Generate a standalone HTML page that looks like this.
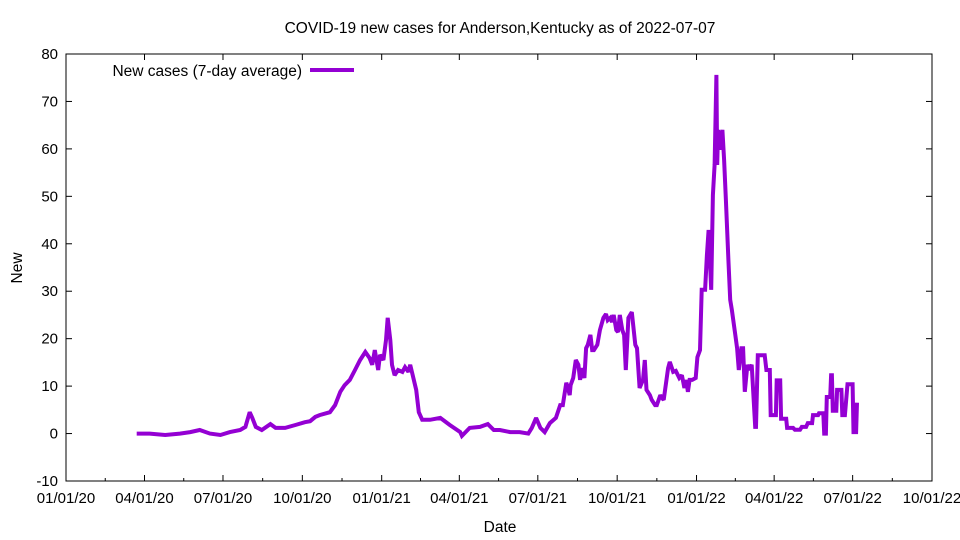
<!DOCTYPE html>
<html><head><meta charset="utf-8"><style>
body{margin:0;background:#fff;}
svg{display:block;font-family:"Liberation Sans",Arial,sans-serif;}
</style></head><body>
<svg id="chart" width="960" height="540">
<text x="500" y="33" text-anchor="middle" font-size="15.5">COVID-19 new cases for Anderson,Kentucky as of 2022-07-07</text>
<text x="500" y="532" text-anchor="middle" font-size="15.5">Date</text>
<text transform="translate(22,268) rotate(-90)" text-anchor="middle" font-size="15.5">New</text>
<g id="axes"></g>
<g id="plot"></g>
<g>
<text x="302" y="76" text-anchor="end" font-size="15.5">New cases (7-day average)</text>
<line x1="310" y1="70" x2="354" y2="70" stroke="#9400d3" stroke-width="4"/>
</g>
<rect x="66" y="54" width="866" height="427" fill="none" stroke="#000" stroke-width="1"/>
</svg>
<script>
const days=[82,97,115,132,144,155,167,179,190,202,208,213,216,220,227,237,243,254,266,277,283,289,294,306,312,318,323,329,335,341,347,352,355,358,362,364,368,371,373,376,378,381,385,390,393,397,399,402,406,409,413,422,434,445,457,459,468,480,489,496,503,515,526,536,540,545,550,555,561,
568,573,576,580,582,584,585,588,591,594,596,598,601,603,605,608,610,612,616,619,623,626,628,631,633,635,638,640,642,645,647,649,652,656,660,662,665,669,671,673,677,679,683,685,689,691,693,698,700,704,707,711,714,717,719,721,723,726,730,732,735,737,
741,743,745,748,750,752,754,755,756,758,761,763,765,768,770,772,
776,778,780,783,785,787,790,792,795,799,800,802,810,812,816,817,823,824,828,829,835,836,843,845,851,853,858,860,865,866,872,873,878,879,881,882,886,887,888,889,893,894,899,900,903,906,912,913,916,917];
const values=[0,0,-0.3,0,0.3,0.75,0,-0.3,0.3,0.75,1.4,4.5,3.3,1.4,0.75,2,1.2,1.2,1.8,2.4,2.6,3.5,3.9,4.5,6,8.8,10.2,11.3,13.4,15.5,17.2,15.9,14.5,17.6,13.4,16.6,15.5,19.7,24.4,19.7,14.5,12.3,13.4,13,14,13,14.5,12.3,9.2,4.5,2.9,2.9,3.3,1.8,0.3,-0.5,1.2,1.4,2,0.75,0.75,0.3,0.3,0,1.2,3.3,1.2,0.3,2.2,
3.3,6,6,10.7,9.6,8.1,10.2,11.7,15.5,14.5,11.3,13.8,11.7,18,18.7,20.8,17.6,17.6,18.7,21.8,24.4,25.2,23.9,24.4,23.5,25,21.8,21.4,25,21.8,20.8,13.4,24.4,25.6,18.7,18,9.6,11.3,15.5,9.2,8.1,7.1,6,6,8.1,7.5,7.1,13.8,15.1,13,13.2,11.7,12.3,9.6,11.3,8.8,11.3,11.3,11.7,16.1,17.6,30.3,
30.3,37.6,42.9,30.3,50.3,56.6,75.6,56.6,64,59.8,64,57.7,49.2,36.6,28.2,26,
20.8,18,13.4,18,18,8.8,14.5,13.4,14.5,1.4,1.4,16.5,16.5,13.4,13.4,3.9,3.9,11.2,11.2,3.1,3.1,1.2,1.2,0.8,0.8,1.4,1.4,2.2,2.2,3.9,3.9,4.3,4.3,0,0,7.7,7.7,12.3,12.3,4.8,4.8,9.2,9.2,3.9,3.9,10.4,10.4,0.3,0.3,6.5];
const yTicks=[-10,0,10,20,30,40,50,60,70,80];
const xTickLabels=["01/01/20","04/01/20","07/01/20","10/01/20","01/01/21","04/01/21","07/01/21","10/01/21","01/01/22","04/01/22","07/01/22","10/01/22"];
const xTickDays=[0,91,182,274,366,456,547,639,731,821,912,1004];
const X0=66,X1=932,Y0=481,Y1=54,DMAX=1004,VMIN=-10,VMAX=80;
const xs=d=>X0+d*(X1-X0)/DMAX;
const ys=v=>Y0-(v-VMIN)*(Y0-Y1)/(VMAX-VMIN);
const NS="http://www.w3.org/2000/svg";
const axes=document.getElementById('axes');
function mk(tag,attrs,parent){const e=document.createElementNS(NS,tag);for(const k in attrs)e.setAttribute(k,attrs[k]);parent.appendChild(e);return e;}
yTicks.forEach(v=>{
  const y=ys(v);
  const t=mk('line',{x1:X0,y1:y,x2:X0+6,y2:y,stroke:'#000'},axes);
  
  
  const t2=mk('line',{x1:X1,y1:y,x2:X1-6,y2:y,stroke:'#000'},axes);
  
  
  const l=mk('text',{x:X0-8,y:y+5,'text-anchor':'end','font-size':15},axes);
  l.textContent=v;
  
  
});
xTickDays.forEach((d,i)=>{
  const x=xs(d);
  const t=mk('line',{x1:x,y1:Y0,x2:x,y2:Y0-6,stroke:'#000'},axes);
  
  
  const t2=mk('line',{x1:x,y1:Y1,x2:x,y2:Y1+6,stroke:'#000'},axes);
  
  
  if(i<xTickDays.length-1){
    const md=(d+xTickDays[i+1])/2, mx=xs(md);
    const m=mk('line',{x1:mx,y1:Y0,x2:mx,y2:Y0-3,stroke:'#000'},axes);
    
    
  }
  const l=mk('text',{x:x,y:503,'text-anchor':'middle','font-size':15},axes);
  l.textContent=xTickLabels[i];
  
  
});
const pts=days.map((d,i)=>xs(d).toFixed(1)+','+ys(values[i]).toFixed(1)).join(' ');
const line=mk('polyline',{points:pts,fill:'none',stroke:'#9400d3','stroke-width':4,'stroke-linejoin':'miter','stroke-miterlimit':2},document.getElementById('plot'));


</script>
</body></html>
